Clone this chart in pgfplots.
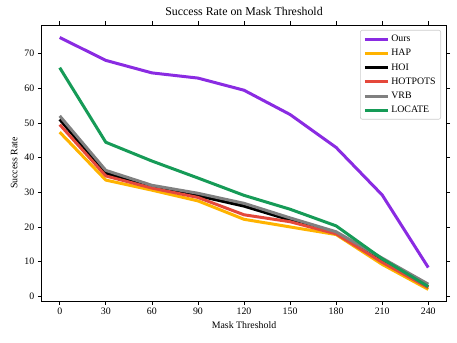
\documentclass[border=0pt]{standalone}
\usepackage{fontspec}
\setmainfont{Liberation Serif}
\usepackage{pgfplots}
\pgfplotsset{compat=1.18}
\definecolor{cOurs}{HTML}{8A2BE2}
\definecolor{cHAP}{HTML}{FFB300}
\definecolor{cHOI}{HTML}{000000}
\definecolor{cHOT}{HTML}{E5483B}
\definecolor{cVRB}{HTML}{808080}
\definecolor{cLOC}{HTML}{169B57}

\begin{document}
\begin{tikzpicture}
\begin{axis}[
  at={(0,0)}, anchor=south west,
  scale only axis, width=405.4bp, height=276bp,
  xmin=-12, xmax=252, ymin=-1.35, ymax=78.2,
  xtick={0,30,...,240}, ytick={0,10,...,70},
  tick align=outside, major tick length=3.5bp,
  tick style={black, line width=0.6bp},
  axis line style={line width=0.6bp},
  tick label style={font=\fontsize{9.9}{11}\selectfont},
  /pgf/number format/assume math mode=true,
  xlabel={Mask Threshold}, ylabel={Success Rate},
  label style={font=\fontsize{9.9}{11}\selectfont},
  title={Success Rate on Mask Threshold},
  title style={font=\fontsize{11.9}{13}\selectfont},
  legend cell align=left,
  legend style={at={(0.986,0.982)}, anchor=north east,
    draw=black!20, rounded corners=2bp, line width=0.6bp,
    font=\fontsize{9.9}{11}\selectfont, row sep=2.2bp,
    inner xsep=3bp, inner ysep=3bp},
  legend image code/.code={\draw[#1] (0bp,0bp) -- (23bp,0bp);},
  every axis plot/.append style={line width=3bp, line join=round},
]
\addplot[cOurs] coordinates {
  (0,74.6) (30,68.0) (60,64.4) (90,62.9) (120,59.4) (150,52.4) (180,42.9) (210,29.2) (240,8.3)};
\addlegendentry{Ours}
\addplot[cHAP] coordinates {
  (0,47.3) (30,33.5) (60,30.6) (90,27.5) (120,22.2) (150,20.0) (180,17.8) (210,9.2) (240,2.0)};
\addlegendentry{HAP}
\addplot[cHOI] coordinates {
  (0,51.0) (30,35.5) (60,31.5) (90,29.0) (120,26.0) (150,22.0) (180,18.3) (210,10.3) (240,2.8)};
\addlegendentry{HOI}
\addplot[cHOT] coordinates {
  (0,49.5) (30,34.7) (60,31.2) (90,28.5) (120,23.5) (150,21.5) (180,18.0) (210,9.8) (240,2.5)};
\addlegendentry{HOTPOTS}
\addplot[cVRB] coordinates {
  (0,52.0) (30,36.3) (60,32.0) (90,29.7) (120,26.8) (150,22.6) (180,18.6) (210,11.0) (240,3.5)};
\addlegendentry{VRB}
\addplot[cLOC] coordinates {
  (0,65.9) (30,44.4) (60,39.0) (90,34.1) (120,29.1) (150,25.1) (180,20.3) (210,10.8) (240,2.8)};
\addlegendentry{LOCATE}
\end{axis}
\pgfresetboundingbox
\path[use as bounding box] (-41.3bp,-42bp) rectangle (415.7bp,301bp);
\end{tikzpicture}
\end{document}
